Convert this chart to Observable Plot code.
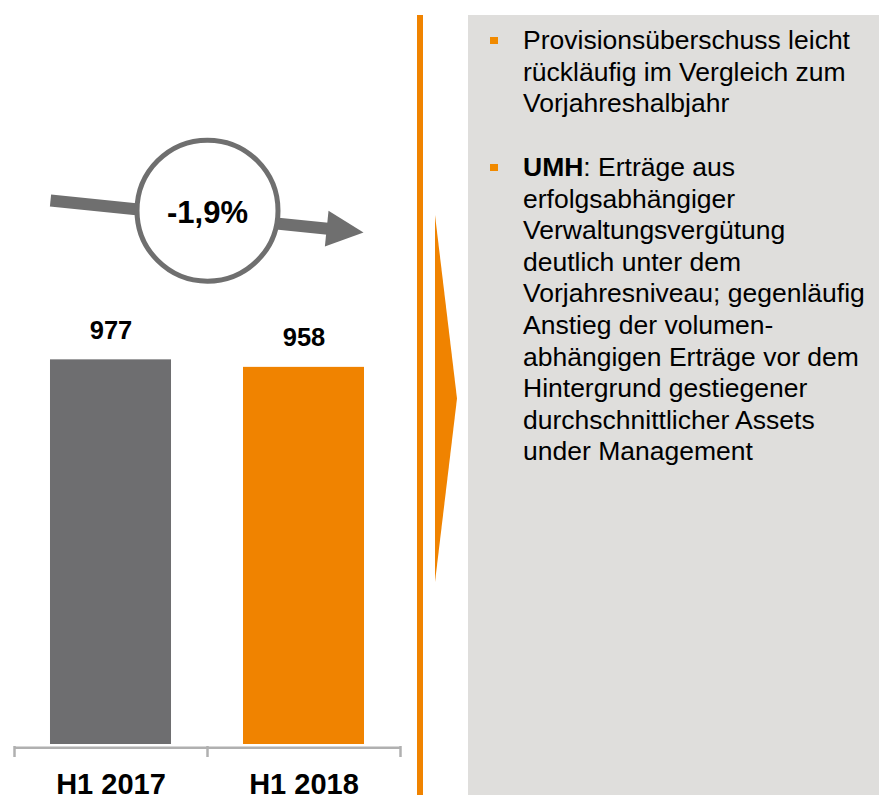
<!DOCTYPE html>
<html>
<head>
<meta charset="utf-8">
<script src="https://cdn.jsdelivr.net/npm/d3@7"></script>
<script src="https://cdn.jsdelivr.net/npm/@observablehq/plot@0.6"></script>
<style>
  html, body { margin: 0; padding: 0; background: #ffffff; }
  #wrap { position: relative; width: 879px; height: 800px; overflow: hidden; font-family: Arial, "Liberation Sans", sans-serif; }
  #chart { position: absolute; left: 0; top: 0; }
  #vline { position: absolute; left: 417px; top: 15px; width: 6px; height: 780px; background: #f08300; }
  #tri { position: absolute; left: 435px; top: 215px; width: 22px; height: 367px; background: #f08300; clip-path: polygon(0 0, 100% 50%, 0 100%); }
  #panel { position: absolute; left: 468px; top: 15px; width: 411px; height: 780px; background: #dfdedc; box-sizing: border-box; padding: 10px 0 0 55px; color: #000; font-size: 26.5px; line-height: 31.6px; }
  #panel p { position: relative; margin: 0; white-space: nowrap; }
  #panel p + p { margin-top: 32.2px; }
  #panel p .sq { position: absolute; left: -33px; top: 11.6px; width: 7.5px; height: 7.5px; background: #f18a00; }
</style>
</head>
<body>
<div id="wrap">
  <div id="chart"></div>
  <div id="vline"></div>
  <div id="tri"></div>
  <div id="panel"></div>
</div>
<script>
// ---- data ----
const categories = ["H1 2017", "H1 2018"];
const values = [977, 958];
const bulletLines = [
  [["", "Provisionsüberschuss leicht"], ["", "rückläufig im Vergleich zum"], ["", "Vorjahreshalbjahr"]],
  [["UMH", ": Erträge aus"], ["", "erfolgsabhängiger"], ["", "Verwaltungsvergütung"], ["", "deutlich unter dem"],
   ["", "Vorjahresniveau; gegenläufig"], ["", "Anstieg der volumen-"], ["", "abhängigen Erträge vor dem"],
   ["", "Hintergrund gestiegener"], ["", "durchschnittlicher Assets"], ["", "under Management"]]
];

// ---- styles ----
const barColors = ["#6e6e70", "#f08300"];
const gray = "#6f6f6f";
const axisGray = "#b0b0b0";
const pad = 0.1865; // padding of each bar within its slot (fraction)

const table = categories.map((c, i) => ({category: c, value: values[i], i}));
const change = (values[1] - values[0]) / values[0] * 100;
const changeLabel = change.toFixed(1).replace(".", ",") + "%";

// annotation anchors (in chart units)
const circlePos = [{x: 1, y: 1354}];
const shaft = [{x1: 0.1865, y1: 1379.6, x2: 1.7127, y2: 1303.6}];
const headPos = [{x: 1.6176, y: 1308.4}];
const headAngle = 5.8 * Math.PI / 180;
const headSymbol = {
  draw(ctx) {
    const L = 37, H = 18, c = Math.cos(headAngle), s = Math.sin(headAngle);
    ctx.moveTo(H * s, -H * c);
    ctx.lineTo(L * c, L * s);
    ctx.lineTo(-H * s, H * c);
    ctx.closePath();
  }
};

const chart = Plot.plot({
  width: 410, height: 800,
  marginLeft: 14, marginRight: 10, marginTop: 0, marginBottom: 54,
  x: {domain: [0, categories.length], axis: null},
  y: {domain: [0, 1885], axis: null},
  color: {type: "identity"},
  style: {fontFamily: "Arial, 'Liberation Sans', sans-serif", background: "transparent", color: "#000"},
  marks: [
    Plot.rectY(table, {x1: d => d.i + pad, x2: d => d.i + 1 - pad, y1: 0, y2: "value", fill: d => barColors[d.i], insetBottom: 2}),
    Plot.text(table, {x: d => d.i + 0.5, y: "value", text: d => String(d.value), dy: -29.5, fontSize: 25.5, fontWeight: "bold", fill: "#000"}),
    Plot.ruleY([0], {stroke: axisGray, strokeWidth: 2.5, dy: 1.3}),
    Plot.axisX({ticks: d3.range(categories.length + 1), tickSize: 11, tickFormat: () => "", stroke: axisGray, strokeWidth: 2.5}),
    Plot.text(table, {x: d => d.i + 0.5, y: 0, text: "category", dy: 38.7, fontSize: 29, fontWeight: "bold", fill: "#000"}),
    Plot.link(shaft, {x1: "x1", y1: "y1", x2: "x2", y2: "y2", stroke: gray, strokeWidth: 12, strokeLinecap: "butt"}),
    Plot.dot(headPos, {x: "x", y: "y", symbol: headSymbol, r: 10, fill: gray, stroke: "none"}),
    Plot.dot(circlePos, {x: "x", y: "y", r: 70.5, fill: "white", stroke: gray, strokeWidth: 5}),
    Plot.text(circlePos, {x: "x", y: "y", text: () => changeLabel, dy: 2.5, fontSize: 31, fontWeight: "bold", fill: "#000"})
  ]
});
document.getElementById("chart").appendChild(chart);

// ---- right text panel ----
const panel = document.getElementById("panel");
bulletLines.forEach(lines => {
  const p = document.createElement("p");
  const sq = document.createElement("span");
  sq.className = "sq";
  p.appendChild(sq);
  lines.forEach(([bold, rest], k) => {
    if (k > 0) p.appendChild(document.createElement("br"));
    if (bold) { const b = document.createElement("b"); b.textContent = bold; p.appendChild(b); }
    p.appendChild(document.createTextNode(rest));
  });
  panel.appendChild(p);
});
</script>
</body>
</html>
